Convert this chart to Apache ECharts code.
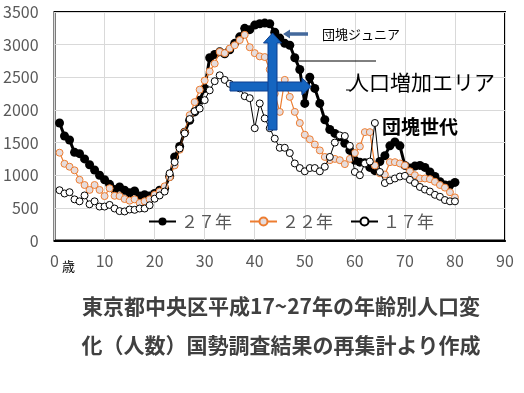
<!DOCTYPE html>
<html><head><meta charset="utf-8">
<script src="https://cdn.jsdelivr.net/npm/echarts@6/dist/echarts.min.js"></script>
<style>html,body{margin:0;padding:0;background:#fff}#c{width:524px;height:393px}</style>
</head><body><div id="c"></div>
<script>
const ages = [1,2,3,4,5,6,7,8,9,10,11,12,13,14,15,16,17,18,19,20,
  21,22,23,24,25,26,27,28,29,30,31,32,33,34,35,36,37,38,39,40,
  41,42,43,44,45,46,47,48,49,50,51,52,53,54,55,56,57,58,59,60,
  61,62,63,64,65,66,67,68,69,70,71,72,73,74,75,76,77,78,79,80];
const pop27 = [1800,1600,1540,1350,1330,1250,1160,1080,1000,930,
  860,780,820,770,730,760,680,700,680,720,
  770,800,980,1280,1440,1660,1840,1970,2150,2330,
  2800,2850,2890,2860,2920,3020,3120,3250,3230,3300,
  3320,3330,3320,3190,3100,3020,2990,2800,2620,2100,
  2500,2330,2100,1850,1700,1640,1590,1490,1380,1230,
  1200,1190,1120,1070,1210,1300,1450,1510,1450,1150,
  1110,1140,1150,1120,1050,980,900,850,850,890];
const pop22 = [1345,1175,1130,1075,930,850,775,850,775,680,
  800,685,680,635,610,630,575,600,630,700,
  750,830,970,1150,1390,1660,1920,2120,2310,2450,
  2590,2710,2890,2870,2940,2990,3070,3150,2960,2870,
  2820,2810,2620,2250,1970,2460,2200,1970,1800,1620,
  1550,1470,1380,1280,1230,1250,1230,1170,1250,1340,
  1440,1660,1660,1150,1030,1010,1200,1200,1180,1150,
  1060,1000,950,950,940,900,850,810,740,660];
const pop17 = [770,720,740,630,600,690,555,600,520,520,
  545,490,450,445,475,470,490,490,540,640,
  690,750,1030,1200,1410,1640,1860,1980,2020,2150,
  2300,2440,2530,2460,2400,2360,2330,2210,2180,1720,
  2100,1870,1720,1560,1420,1420,1340,1180,1110,1060,
  1110,1110,1060,1130,1280,1500,1610,1600,1450,1050,
  1000,1180,1210,1800,1050,880,920,950,980,990,
  930,880,820,780,750,700,670,620,600,600];
const seriesNames = ['２７年','２２年','１７年'];
const xTicks = {min:0, max:90, interval:10};
const yTicks = {min:0, max:3500, interval:500};
const titleLines = ['東京都中央区平成17~27年の年齢別人口変','化（人数）国勢調査結果の再集計より作成'];
const notes = {junior:'団塊ジュニア', area:'人口増加エリア', dankai:'団塊世代', unit:'歳'};

const pairs = arr => ages.map((a,i)=>[a, arr[i]]);
const FONT = "'Noto Sans CJK JP', 'Noto Sans', sans-serif";
const chart = echarts.init(document.getElementById('c'), null, {renderer:'canvas'});
chart.setOption({
  animation:false,
  textStyle:{fontFamily:FONT},
  grid:{left:54, right:19, top:12, bottom:152.5, show:true, borderColor:'#000', borderWidth:2, backgroundColor:'transparent'},
  xAxis:{type:'value', min:xTicks.min, max:xTicks.max, interval:xTicks.interval,
    axisLine:{show:true, lineStyle:{color:'#000', width:2}}, axisTick:{show:false},
    splitLine:{show:true, lineStyle:{color:'#d9d9d9', width:1}},
    axisLabel:{color:'#595959', fontSize:16, margin:12, fontFamily:FONT, formatter:v=>String(v)}},
  yAxis:{type:'value', min:yTicks.min, max:yTicks.max, interval:yTicks.interval,
    axisLine:{show:false}, axisTick:{show:false},
    splitLine:{show:true, lineStyle:{color:'#d9d9d9', width:1}},
    axisLabel:{color:'#595959', fontSize:16, margin:16, fontFamily:FONT, formatter:v=>String(v)}},
  legend:{left:148, top:213, itemWidth:27, itemHeight:10, itemGap:17, padding:0,
    textStyle:{fontSize:17, color:'#595959', fontFamily:FONT},
    data:seriesNames},
  series:[
    {name:seriesNames[0], type:'line', data:pairs(pop27), symbol:'circle', symbolSize:9,
     showSymbol:true, showAllSymbol:true, lineStyle:{color:'#000', width:3}, itemStyle:{color:'#000'}, z:2},
    {name:seriesNames[1], type:'line', data:pairs(pop22), symbol:'circle', symbolSize:7,
     showSymbol:true, showAllSymbol:true, lineStyle:{color:'#ED7D31', width:1.2},
     itemStyle:{color:'#e6dcdc', borderColor:'#ED7D31', borderWidth:1}, z:3},
    {name:seriesNames[2], type:'line', data:pairs(pop17), symbol:'circle', symbolSize:7,
     showSymbol:true, showAllSymbol:true, lineStyle:{color:'#000', width:1},
     itemStyle:{color:'#fff', borderColor:'#000', borderWidth:1}, z:4}
  ],
  graphic:[
    {type:'polygon', z:100, shape:{points:[[230,82],[302,82],[302,78],[311,86.5],[302,95],[302,91],[230,91]]},
     style:{fill:'#1565c0', stroke:'#0d3f8f', lineWidth:1}},
    {type:'polygon', z:101, shape:{points:[[268,130],[277,130],[277,43],[281.5,43],[272.5,33],[263.5,43],[268,43]]},
     style:{fill:'#1565c0', stroke:'#0d3f8f', lineWidth:1}},
    {type:'polygon', z:100, shape:{points:[[283,34],[290,29.5],[290,32.3],[308,32.3],[308,35.7],[290,35.7],[290,38.5]]},
     style:{fill:'#44699c'}},
    {type:'line', z:100, shape:{x1:298, y1:61, x2:376, y2:61}, style:{stroke:'#000', lineWidth:1}},
    {type:'line', z:100, shape:{x1:346, y1:90, x2:350, y2:90}, style:{stroke:'#000', lineWidth:1}},
    {type:'text', z:100, x:322, y:34, style:{text:notes.junior, font:'13px '+FONT, fill:'#000', verticalAlign:'middle'}},
    {type:'text', z:100, x:348, y:82, style:{text:notes.area, font:'21px '+FONT, fill:'#000', verticalAlign:'middle'}},
    {type:'text', z:100, x:382, y:127, style:{text:notes.dankai, font:'bold 19px '+FONT, fill:'#000', verticalAlign:'middle'}},
    {type:'text', z:100, x:62, y:266, style:{text:notes.unit, font:'13px '+FONT, fill:'#000', verticalAlign:'middle'}},
    {type:'text', z:100, x:281, y:306, style:{text:titleLines[0], font:'bold 21px '+FONT, fill:'#404040', align:'center', verticalAlign:'middle'}},
    {type:'text', z:100, x:281, y:345, style:{text:titleLines[1], font:'bold 21px '+FONT, fill:'#404040', align:'center', verticalAlign:'middle'}}
  ]
});
</script></body></html>
